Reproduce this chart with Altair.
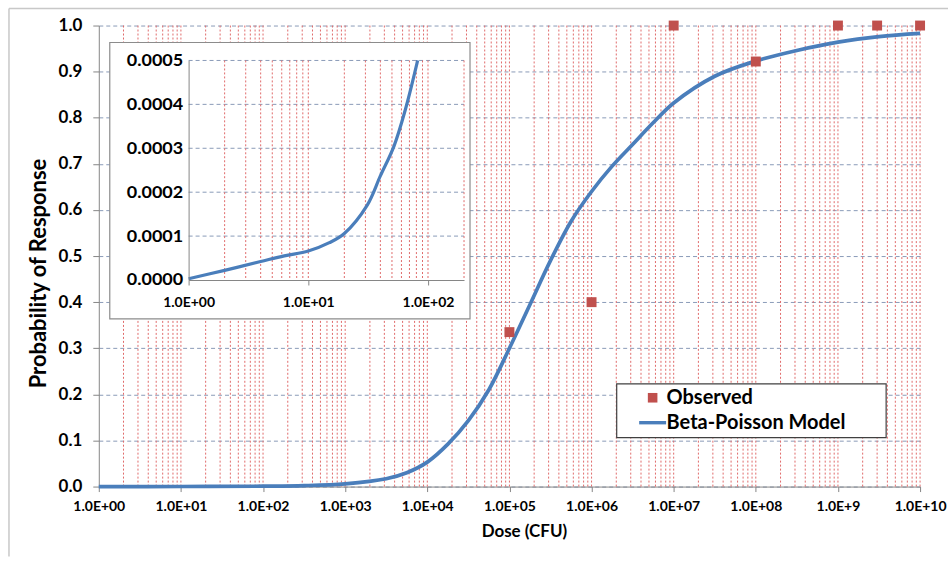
import altair as alt
import pandas as pd

# ---------------- data ----------------
obs_dose = [1e5, 1e6, 1e7, 1e8, 1e9, 3e9, 1e10]
obs_resp = [0.335, 0.40, 1.0, 0.922, 1.0, 1.0, 1.0]

model_dose = [1, 10, 100, 316, 1000, 3160, 5620, 1e4, 1.78e4, 3.16e4, 5.62e4,
              1e5, 1.78e5, 3.16e5, 5.62e5, 1e6, 1.78e6, 3.16e6, 5.62e6, 1e7,
              3.16e7, 1e8, 3.16e8, 1e9, 3.16e9, 1e10]
model_resp = [0.0, 0.0001, 0.0008, 0.002, 0.006, 0.017, 0.03, 0.053, 0.092, 0.143, 0.21,
              0.30, 0.395, 0.49, 0.575, 0.64, 0.695, 0.742, 0.789, 0.832,
              0.89, 0.923, 0.946, 0.964, 0.976, 0.983]

inset_dose = [1, 2, 4, 6.3, 10, 15, 20, 31, 40, 52, 65, 82]
inset_resp = [0.000003, 0.000022, 0.000042, 0.000055, 0.000066, 0.000085, 0.000106,
              0.00017, 0.000237, 0.000305, 0.00039, 0.0005]

series_names = ["Observed", "Beta-Poisson Model"]

main_x_ticks = [1, 1e1, 1e2, 1e3, 1e4, 1e5, 1e6, 1e7, 1e8, 1e9, 1e10]
main_y_ticks = [0.0, 0.1, 0.2, 0.3, 0.4, 0.5, 0.6, 0.7, 0.8, 0.9, 1.0]
inset_x_ticks = [1, 10, 100]
inset_y_ticks = [0.0, 0.0001, 0.0002, 0.0003, 0.0004, 0.0005]

main_vgrid = [float(m * 10 ** k) for k in range(10) for m in range(2, 11)]
inset_vgrid = [float(m * 10 ** k) for k in range(2) for m in range(2, 11)] + [200.0]
inset_hgrid = [0.0001, 0.0002, 0.0003, 0.0004, 0.0005]

# ---------------- style ----------------
FONT = "Lato"
RED = "#c0504d"
BLUE = "#4a7ebb"
RED_GRID = "#e06a6a"
BLUE_GRID = "#8a9bb8"
AXIS_GRAY = "#868686"
SQUARE_PATH = "M-0.48,-0.48L0.48,-0.48L0.48,0.48L-0.48,0.48Z"
LINE_PATH = "M-1.35,-0.17L1.35,-0.17L1.35,0.17L-1.35,0.17Z"

W, H = 823, 462
# inset plot rectangle, in pixels of the main plot area
IX0, IX1 = 90, 366
IY0, IY1 = 35, 255

label_expr = "'1.0E+' + (datum.value < 1e9 ? '0' : '') + format(log(datum.value) / LN10, '.0f')"

dummy = pd.DataFrame({"a": [0]})
obs_df = pd.DataFrame({"dose": obs_dose, "resp": obs_resp, "series": ["Observed"] * len(obs_dose)})
model_df = pd.DataFrame({"dose": model_dose, "resp": model_resp})
inset_df = pd.DataFrame({"idose": inset_dose, "iresp": inset_resp})
mvgrid_df = pd.DataFrame({"dose": main_vgrid})
ivgrid_df = pd.DataFrame({"idose": inset_vgrid})
ihgrid_df = pd.DataFrame({"iresp": inset_hgrid})

# ---------------- main chart ----------------
x_main = alt.X(
    "dose:Q",
    scale=alt.Scale(type="log", domain=[1, 1e10], nice=False),
    axis=alt.Axis(orient="bottom", values=main_x_ticks, labelExpr=label_expr, grid=False, tickSize=5,
                  tickColor=AXIS_GRAY, domainColor=AXIS_GRAY, labelFontSize=14, labelPadding=8,
                  labelFlush=False, labelOverlap=False,
                  title="Dose (CFU)", titleFontSize=17, titlePadding=10, titleX=426),
)
y_main = alt.Y(
    "resp:Q",
    scale=alt.Scale(domain=[0, 1], nice=False),
    axis=alt.Axis(orient="left", values=main_y_ticks, format=".1f", grid=True, gridColor=BLUE_GRID,
                  gridDash=[4, 3], gridWidth=1, tickSize=6, tickColor=AXIS_GRAY,
                  domainColor=AXIS_GRAY, labelFontSize=17, labelPadding=11, labelFlush=False,
                  title="Probability of Response", titleFontSize=22, titlePadding=8, titleY=248),
)

border_top = alt.Chart(dummy).mark_rule(color="#c8c8c8", strokeWidth=1.5).encode(
    x=alt.value(-90), x2=alt.value(851), y=alt.value(-17))
border_left = alt.Chart(dummy).mark_rule(color="#c8c8c8", strokeWidth=1.5).encode(
    x=alt.value(-90), y=alt.value(-17), y2=alt.value(532))

vgrid = alt.Chart(mvgrid_df).mark_rule(color=RED_GRID, strokeDash=[2, 2], strokeWidth=1).encode(
    x=x_main, y=alt.value(0), y2=alt.value(H))

line = alt.Chart(model_df).mark_line(color=BLUE, strokeWidth=3.7, interpolate="catmull-rom").encode(
    x=x_main, y=y_main)

# legend frame (decoration behind the legend entries)
legend_box = alt.Chart(dummy).mark_rect(fill="white", stroke="#404040", strokeWidth=1.2).encode(
    x=alt.value(519), x2=alt.value(789), y=alt.value(359), y2=alt.value(413))

legend = alt.Legend(orient="none", legendX=519, legendY=359, title=None, padding=4,
                    labelFont=FONT, labelFontWeight="bold", labelFontSize=20, labelColor="black",
                    labelLimit=500, symbolSize=400, symbolOffset=22, labelOffset=4, rowPadding=5,
                    symbolStrokeWidth=0, symbolOpacity=1)

points = alt.Chart(obs_df).mark_point(filled=True, size=430, opacity=1).encode(
    x=x_main, y=y_main,
    color=alt.Color("series:N", scale=alt.Scale(domain=series_names, range=[RED, BLUE]), legend=legend),
    shape=alt.Shape("series:N", scale=alt.Scale(domain=series_names, range=[SQUARE_PATH, LINE_PATH]),
                    legend=legend),
)

main = alt.layer(border_top, border_left, vgrid, legend_box, line, points)

# ---------------- inset chart (own scales, placed inside the main plot) ----------------
x_in = alt.X(
    "idose:Q",
    scale=alt.Scale(type="log", domain=[1, 200], range=[IX0, IX1], nice=False),
    axis=alt.Axis(orient="bottom", offset=IY1 - H, values=inset_x_ticks, labelExpr=label_expr,
                  grid=False, tickSize=5, tickColor=AXIS_GRAY, domainColor=AXIS_GRAY,
                  labelFontSize=14, labelPadding=11, labelFlush=False, labelOverlap=False,
                  title=None, zindex=1),
)
y_in = alt.Y(
    "iresp:Q",
    scale=alt.Scale(domain=[0, 0.0005], range=[IY1, IY0], nice=False),
    axis=alt.Axis(orient="left", offset=-IX0, values=inset_y_ticks, format=".4f", grid=False,
                  tickSize=0, domainColor=AXIS_GRAY, labelFontSize=18, labelPadding=6,
                  labelFlush=False, title=None, zindex=1),
)

inset_bg = alt.Chart(dummy).mark_rect(fill="white", stroke="#8c8c8c", strokeWidth=1.2).encode(
    x=alt.value(11), x2=alt.value(372), y=alt.value(17), y2=alt.value(294))
inset_vg = alt.Chart(ivgrid_df).mark_rule(color=RED_GRID, strokeDash=[2, 2], strokeWidth=1).encode(
    x=x_in, y=alt.value(IY0), y2=alt.value(IY1))
inset_hg = alt.Chart(ihgrid_df).mark_rule(color=BLUE_GRID, strokeDash=[4, 3], strokeWidth=1).encode(
    y=y_in, x=alt.value(IX0), x2=alt.value(IX1))
inset_line = alt.Chart(inset_df).mark_line(color=BLUE, strokeWidth=3.2, interpolate="catmull-rom").encode(
    x=x_in, y=y_in)

inset = alt.layer(inset_bg, inset_hg, inset_vg, inset_line)

chart = alt.layer(main, inset).resolve_scale(
    x="independent", y="independent"
).resolve_axis(
    x="independent", y="independent"
).properties(
    width=W, height=H,
    padding={"left": 8, "top": 7, "right": 2, "bottom": 5},
    background="white",
).configure_view(stroke=None).configure_axis(
    labelFont=FONT, labelFontWeight="bold", labelColor="black",
    titleFont=FONT, titleFontWeight="bold", titleColor="black",
)

chart.save("out.html", embed_options={"renderer": "svg", "actions": False})
